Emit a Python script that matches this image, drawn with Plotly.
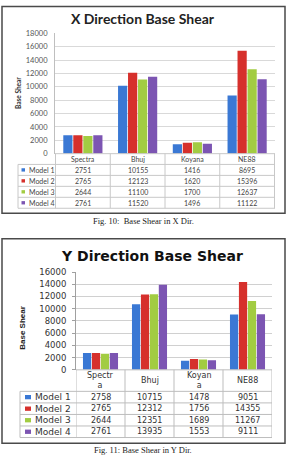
import plotly.graph_objects as go

W, H = 287, 457

# ---------------- data ----------------
models = ["Model 1", "Model 2", "Model 3", "Model 4"]
colors = ["#3a78d4", "#d6302c", "#a2cc42", "#7c55b2"]

cats_x = ["Spectra", "Bhuj", "Koyana", "NE88"]
x_model1 = [2751, 10155, 1416, 8695]
x_model2 = [2765, 12123, 1620, 15396]
x_model3 = [2644, 11100, 1700, 12637]
x_model4 = [2761, 11520, 1496, 11122]

cats_y = ["Spectr<br>a", "Bhuj", "Koyan<br>a", "NE88"]
y_model1 = [2758, 10715, 1478, 9051]
y_model2 = [2765, 12312, 1756, 14355]
y_model3 = [2644, 12351, 1689, 11267]
y_model4 = [2761, 13935, 1553, 9111]

x_ticks = [0, 2000, 4000, 6000, 8000, 10000, 12000, 14000, 16000, 18000]
y_ticks = [0, 2000, 4000, 6000, 8000, 10000, 12000, 14000, 16000]

x_series = [x_model1, x_model2, x_model3, x_model4]
y_series = [y_model1, y_model2, y_model3, y_model4]


def px(x):
    return x / W


def py(y):
    return 1 - y / H


fig = go.Figure()

for name, vals, c in zip(models, x_series, colors):
    fig.add_trace(go.Bar(x=cats_x, y=vals, name=name, marker=dict(color=c, line=dict(width=0)),
                         xaxis="x", yaxis="y", showlegend=False))
for name, vals, c in zip(models, y_series, colors):
    fig.add_trace(go.Bar(x=list(range(4)), y=vals, name=name, marker=dict(color=c, line=dict(width=0)),
                         xaxis="x2", yaxis="y2", showlegend=False))

shapes = []
ann = []


def A(**kw):
    kw.setdefault("xanchor", "center")
    kw.setdefault("yanchor", "middle")
    kw.setdefault("showarrow", False)
    ann.append(kw)


# ---------- boxes ----------
for (y0, y1) in [(1.5, 213), (239, 448)]:
    shapes.append(dict(type="rect", xref="paper", yref="paper", x0=px(2), x1=px(285), y0=py(y0), y1=py(y1),
                       line=dict(color="#4a4a4a", width=1.5), fillcolor="rgba(0,0,0,0)", layer="below"))

# ---------- chart 1 ----------
A(text="<b>X Direction Base Shear</b>", x=px(143), y=py(14), xref="paper", yref="paper",
  font=dict(family="Lato", size=14, color="#222"))
A(text="<b>Base Shear</b>", x=px(18), y=py(90), xref="paper", yref="paper", textangle=-90,
  font=dict(family="Lato", size=6.5, color="#333"))

t1_left = 18
t1_rows = [152, 163, 174.2, 185.4, 196.6, 207.8]
grid1 = "#c8c8c8"
shapes.append(dict(type="line", xref="paper", yref="paper", x0=px(55), x1=px(275), y0=py(152), y1=py(152),
                   line=dict(color=grid1, width=1)))
for r in t1_rows[1:]:
    shapes.append(dict(type="line", xref="paper", yref="paper", x0=px(t1_left), x1=px(275), y0=py(r), y1=py(r),
                       line=dict(color=grid1, width=1)))
for k in range(5):
    shapes.append(dict(type="line", xref="x", yref="paper", x0=k - 0.5, x1=k - 0.5, y0=py(152), y1=py(t1_rows[-1]),
                       line=dict(color=grid1, width=1)))
shapes.append(dict(type="line", xref="paper", yref="paper", x0=px(t1_left), x1=px(t1_left), y0=py(163),
                   y1=py(t1_rows[-1]), line=dict(color=grid1, width=1)))
for c in cats_x:
    A(text=c, x=c, y=py(157.5), xref="x", yref="paper", font=dict(family="Lato", size=7, color="#444"))
for i, (name, vals, col) in enumerate(zip(models, x_series, colors)):
    yc = (t1_rows[i + 1] + t1_rows[i + 2]) / 2
    shapes.append(dict(type="rect", xref="paper", yref="paper", x0=px(21.5), x1=px(25), y0=py(yc - 1.7),
                       y1=py(yc + 1.7), line=dict(width=0), fillcolor=col))
    A(text=name, x=px(26.5), y=py(yc), xref="paper", yref="paper", xanchor="left",
      font=dict(family="Lato", size=7, color="#444"))
    for c, v in zip(cats_x, vals):
        A(text=str(v), x=c, y=py(yc), xref="x", yref="paper", font=dict(family="Lato", size=7, color="#444"))

# ---------- chart 2 ----------
A(text="<b>Y Direction Base Shear</b>", x=px(152), y=py(257), xref="paper", yref="paper",
  font=dict(family="DejaVu Sans", size=14, color="#111"))
A(text="<b>Base Shear</b>", x=px(23), y=py(330), xref="paper", yref="paper", textangle=-90,
  font=dict(family="Liberation Sans Narrow, Liberation Sans", size=8, color="#222"))

t2_left = 20
t2_rows = [373, 395, 406.8, 418.6, 430.4, 442.2]
grid2 = "#bdbdbd"
shapes.append(dict(type="line", xref="paper", yref="paper", x0=px(76), x1=px(272), y0=py(373), y1=py(373),
                   line=dict(color=grid2, width=1)))
for r in t2_rows[1:]:
    shapes.append(dict(type="line", xref="paper", yref="paper", x0=px(t2_left), x1=px(272), y0=py(r), y1=py(r),
                       line=dict(color=grid2, width=1)))
for k in range(5):
    shapes.append(dict(type="line", xref="x2", yref="paper", x0=k - 0.5, x1=k - 0.5, y0=py(373), y1=py(t2_rows[-1]),
                       line=dict(color=grid2, width=1)))
shapes.append(dict(type="line", xref="paper", yref="paper", x0=px(t2_left), x1=px(t2_left), y0=py(395),
                   y1=py(t2_rows[-1]), line=dict(color=grid2, width=1)))
for k, c in enumerate(cats_y):
    A(text=c, x=k, y=py(384), xref="x2", yref="paper", font=dict(family="DejaVu Sans", size=8, color="#333"))
for i, (name, vals, col) in enumerate(zip(models, y_series, colors)):
    yc = (t2_rows[i + 1] + t2_rows[i + 2]) / 2
    shapes.append(dict(type="rect", xref="paper", yref="paper", x0=px(25), x1=px(31), y0=py(yc - 2.2),
                       y1=py(yc + 2.2), line=dict(width=0), fillcolor=col))
    A(text=name, x=px(32.5), y=py(yc), xref="paper", yref="paper", xanchor="left",
      font=dict(family="DejaVu Sans", size=9, color="#333"))
    for k, v in enumerate(vals):
        A(text=str(v), x=k, y=py(yc), xref="x2", yref="paper", font=dict(family="DejaVu Sans", size=8, color="#333"))

# ---------- captions ----------
A(text="Fig. 10:  Base Shear in X Dir.", x=px(143), y=py(221), xref="paper", yref="paper",
  font=dict(family="Liberation Serif", size=8.5, color="#222"))
A(text="Fig. 11: Base Shear in Y Dir.", x=px(143), y=py(455), xref="paper", yref="paper",
  font=dict(family="Liberation Serif", size=8.5, color="#222"))

fig.update_layout(
    width=W, height=H, margin=dict(l=0, r=0, t=0, b=0),
    paper_bgcolor="white", plot_bgcolor="white",
    barmode="group", bargap=0.27, bargroupgap=0.08,
    shapes=shapes, annotations=ann,
    xaxis=dict(domain=[px(55), px(275)], anchor="y", showticklabels=False, showgrid=False, zeroline=False,
               fixedrange=True),
    yaxis=dict(domain=[py(152), py(29)], anchor="x", range=[0, 18000], tickvals=x_ticks, tickformat="d",
               showgrid=True, gridcolor="#d9d9d9", gridwidth=1, zeroline=False,
               showline=True, linecolor="#bfbfbf", linewidth=1, ticks="", ticklabelstandoff=5,
               tickfont=dict(family="Lato", size=7.5, color="#555")),
    xaxis2=dict(domain=[px(76), px(272)], anchor="y2", range=[-0.5, 3.5], showticklabels=False,
                showgrid=False, zeroline=False, fixedrange=True),
    yaxis2=dict(domain=[py(373), py(273)], anchor="x2", range=[0, 16000], tickvals=y_ticks, tickformat="d",
                showgrid=True, gridcolor="#d0d0d0", gridwidth=1, zeroline=False,
                showline=True, linecolor="#a0a0a0", linewidth=1, ticks="outside", ticklen=3,
                tickcolor="#a0a0a0", ticklabelstandoff=4,
                tickfont=dict(family="DejaVu Sans", size=8.5, color="#333")),
)

fig.write_html("out.html")
